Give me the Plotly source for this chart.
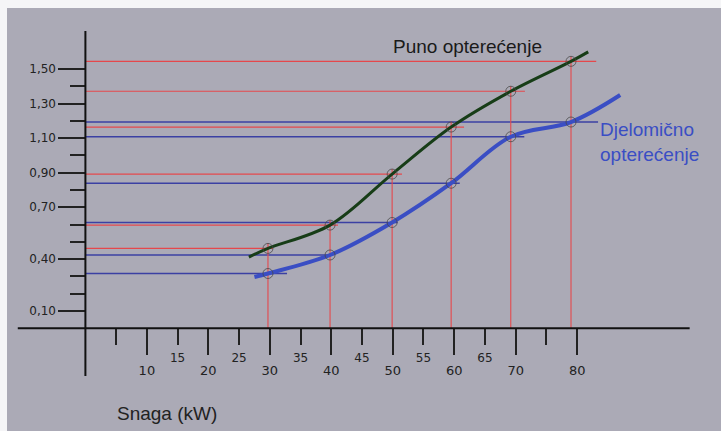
import plotly.graph_objects as go

# ---- data ----
power_kw = [29.7, 39.8, 49.9, 59.5, 69.2, 79.0]
full_load = [0.462, 0.597, 0.892, 1.164, 1.371, 1.544]
partial_load = [0.317, 0.424, 0.612, 0.839, 1.108, 1.193]

full_curve_x = [26.6, 29.7, 39.8, 49.9, 59.5, 69.2, 79.0, 81.8]
full_curve_y = [0.412, 0.462, 0.597, 0.892, 1.164, 1.371, 1.544, 1.599]
partial_curve_x = [27.5, 29.7, 39.8, 49.9, 59.5, 69.2, 79.0, 87.0]
partial_curve_y = [0.297, 0.317, 0.424, 0.612, 0.839, 1.108, 1.193, 1.349]

full_line_end = [30.5, 41.1, 51.5, 61.6, 71.5, 83.1]
partial_line_end = [32.8, 40.3, 50.8, 60.9, 71.4, 83.4]

x_major_ticks = [10, 20, 30, 40, 50, 60, 70, 80]
x_minor_ticks = [5, 15, 25, 35, 45, 55, 65, 75]
x_minor_labels = ["", "15", "25", "35", "45", "55", "65", ""]
y_major_ticks = [0.1, 0.4, 0.7, 0.9, 1.1, 1.3, 1.5]
y_major_labels = ["0,10", "0,40", "0,70", "0,90", "1,10", "1,30", "1,50"]
y_minor_ticks = [0.2, 0.3, 0.5, 0.6, 0.8, 1.0, 1.2, 1.4]

RED = "#e5484c"
BLUE_THIN = "#3b40a3"
GREEN = "#173d17"
BLUE = "#3a4ec4"
INK = "#222222"

fig = go.Figure()

# guide lines: horizontal red (full load), blue (partial), vertical red
hx, hy = [], []
for e, v in zip(full_line_end, full_load):
    hx += [0, e, None]
    hy += [v, v, None]
fig.add_trace(go.Scatter(x=hx, y=hy, mode="lines", line=dict(color=RED, width=1.2),
                         hoverinfo="skip", showlegend=False))
bx, by = [], []
for e, v in zip(partial_line_end, partial_load):
    bx += [0, e, None]
    by += [v, v, None]
fig.add_trace(go.Scatter(x=bx, y=by, mode="lines", line=dict(color=BLUE_THIN, width=1.5),
                         hoverinfo="skip", showlegend=False))
vx, vy = [], []
for p, v in zip(power_kw, full_load):
    vx += [p, p, None]
    vy += [0, v + 0.03, None]
fig.add_trace(go.Scatter(x=vx, y=vy, mode="lines", line=dict(color=RED, width=1.1),
                         hoverinfo="skip", showlegend=False))

# curves
fig.add_trace(go.Scatter(x=full_curve_x, y=full_curve_y, mode="lines",
                         line=dict(color=GREEN, width=3, shape="spline", smoothing=1.0),
                         showlegend=False))
fig.add_trace(go.Scatter(x=partial_curve_x, y=partial_curve_y, mode="lines",
                         line=dict(color=BLUE, width=4, shape="spline", smoothing=1.0),
                         showlegend=False))

# circle markers
for vals in (full_load, partial_load):
    fig.add_trace(go.Scatter(x=power_kw, y=vals, mode="markers",
                             marker=dict(symbol="circle-open", size=10,
                                         color="rgba(70,70,70,0.75)",
                                         line=dict(width=1)),
                             showlegend=False))

# dummy trace for the secondary x axis
fig.add_trace(go.Scatter(x=[x_minor_ticks[0]], y=[0], xaxis="x2", mode="markers",
                         marker=dict(opacity=0), hoverinfo="skip", showlegend=False))

XR = [-12.754, 103.40]
YR = [-0.594, 1.8525]
xpos = (0 - YR[0]) / (YR[1] - YR[0])
ypos = (0 - XR[0]) / (XR[1] - XR[0])

tickfont = dict(family="DejaVu Sans", size=13, color=INK)

fig.update_layout(
    width=721, height=431,
    margin=dict(l=7, r=0, t=8, b=0),
    paper_bgcolor="#f5f5f7",
    plot_bgcolor="#abaab6",
    xaxis=dict(range=XR, anchor="free", position=xpos, showgrid=False, zeroline=False,
               showline=False, ticks="outside", tickvals=x_major_ticks,
               ticktext=[str(t) for t in x_major_ticks], ticklen=26, tickwidth=2,
               tickcolor=INK, tickfont=tickfont, ticklabelstandoff=4),
    xaxis2=dict(range=XR, overlaying="x", anchor="free", position=xpos, side="bottom",
                showgrid=False, zeroline=False, showline=False, ticks="outside",
                tickvals=x_minor_ticks, ticktext=x_minor_labels, ticklen=16, tickwidth=2,
                tickcolor=INK, tickfont=dict(family="DejaVu Sans", size=12, color=INK),
                ticklabelstandoff=2),
    yaxis=dict(range=YR, anchor="free", position=ypos, showgrid=False, zeroline=False,
               showline=False, ticks="outside", tickvals=y_major_ticks,
               ticktext=y_major_labels, ticklen=27, tickwidth=2, tickcolor=INK,
               tickfont=dict(family="DejaVu Sans", size=12, color=INK),
               minor=dict(tickvals=y_minor_ticks, ticklen=15, tickwidth=2,
                          tickcolor=INK, ticks="outside")),
    shapes=[
        dict(type="line", xref="x", yref="y", x0=-11.0, x1=98.3, y0=0, y1=0,
             line=dict(color="#111111", width=2)),
        dict(type="line", xref="x", yref="y", x0=0, x1=0, y0=-0.276, y1=1.72,
             line=dict(color="#111111", width=2)),
    ],
    annotations=[
        dict(text="Puno opterećenje", x=62.2, y=1.627, xref="x", yref="y",
             showarrow=False, font=dict(family="Liberation Sans", size=19, color="#1a1a1a")),
        dict(text="Djelomično<br>opterećenje", x=83.4, y=1.078, xref="x", yref="y",
             xanchor="left", yanchor="middle", align="left", showarrow=False,
             font=dict(family="Liberation Sans", size=19, color=BLUE)),
        dict(text="Snaga (kW)", x=13.3, y=-0.49, xref="x", yref="y", showarrow=False,
             font=dict(family="Liberation Sans", size=19, color=INK)),
    ],
)

fig.write_html("out.html", config={"displayModeBar": False},
               post_script="document.body.style.margin='0';document.body.style.overflow='hidden';")
